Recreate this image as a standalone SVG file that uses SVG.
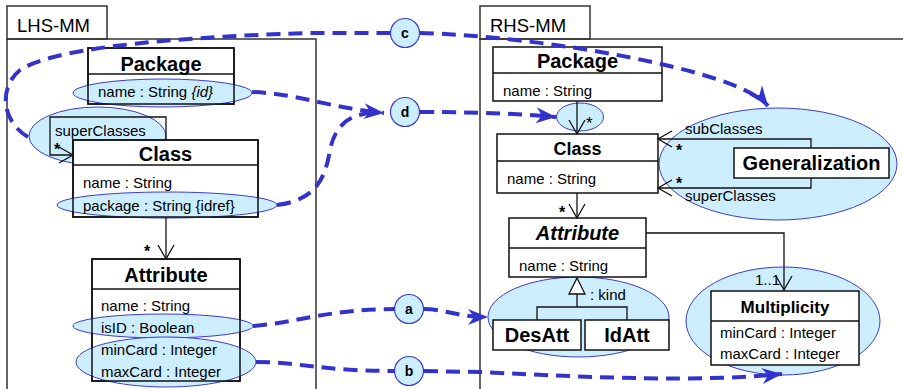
<svg xmlns="http://www.w3.org/2000/svg" width="903" height="389" viewBox="0 0 903 389">
<defs>
<style>
text{font-family:"Liberation Sans",Arial,sans-serif;fill:#000}
.t{font-size:15px}
.b{font-size:20px;font-weight:bold}
.tab{font-size:18.5px}
.box{fill:#fff;stroke:#111;stroke-width:1.5}
.frame{fill:none;stroke:#333;stroke-width:1.5}
.ln{fill:none;stroke:#111;stroke-width:1.3}
.hl{fill:#cceeff;stroke:#3b3bd0;stroke-width:1}
.dash{fill:none;stroke:#3333cc;stroke-width:4;stroke-dasharray:14 8}
.lbl{fill:#cceeff;stroke:#3b3bd0;stroke-width:1.2}
.lt{font-size:14px;font-weight:bold;text-anchor:middle}
.m{text-anchor:middle}
.star{font-size:16px;font-weight:bold}
</style>
<marker id="open" markerUnits="userSpaceOnUse" markerWidth="16" markerHeight="18" refX="14" refY="8" orient="auto" overflow="visible">
<path d="M0,0 L14,8 L0,16" fill="none" stroke="#111" stroke-width="1.3"/>
</marker>
<marker id="st" markerUnits="userSpaceOnUse" markerWidth="22" markerHeight="18" refX="20" refY="8" orient="auto" overflow="visible">
<path d="M0,0 L20,8 L0,16 L6,8 z" fill="#3333cc"/>
</marker>
</defs>

<!-- frames -->
<g id="LHS-MM">
<rect class="frame" x="7" y="6" width="100" height="33"/>
<rect class="frame" x="7" y="39" width="309" height="360"/>
<text class="tab" x="17" y="32">LHS-MM</text>
</g>
<g id="RHS-MM">
<rect class="frame" x="480" y="6" width="110" height="33"/>
<rect class="frame" x="480" y="39" width="440" height="360"/>
<text class="tab" x="490" y="32">RHS-MM</text>
</g>

<!-- selection ellipses behind nodes -->
<g id="sel">
<ellipse class="hl" cx="97.5" cy="136" rx="68.5" ry="29"/>
<ellipse class="hl" cx="580" cy="117" rx="23.5" ry="14"/>
<ellipse class="hl" cx="778" cy="164" rx="119" ry="56"/>
<ellipse class="hl" cx="578.5" cy="317" rx="90.5" ry="40"/>
<ellipse class="hl" cx="783" cy="321" rx="97" ry="54"/>
</g>

<!-- LHS nodes -->
<g id="lhs-package">
<rect class="box" x="88" y="48" width="146" height="56"/>
<ellipse class="hl" cx="162.5" cy="93" rx="89.5" ry="14"/>
<rect x="88" y="48" width="146" height="56" fill="none" stroke="#111" stroke-width="1.5"/>
<line class="ln" x1="88" y1="74" x2="234" y2="74"/>
<text class="b m" x="161" y="71">Package</text>
<text class="t" x="98" y="97">name : String <tspan font-style="italic">{id}</tspan></text>
</g>

<g id="lhs-superClasses">
<path class="ln" d="M166,140 V117 H50 V155 H73" marker-end="url(#open)"/>
<text class="t" x="55" y="136">superClasses</text>
<text class="star" x="54" y="155">*</text>
</g>

<g id="lhs-class">
<rect class="box" x="73" y="140" width="185" height="77"/>
<ellipse class="hl" cx="167" cy="205" rx="110" ry="13"/>
<rect x="73" y="140" width="185" height="77" fill="none" stroke="#111" stroke-width="1.5"/>
<line class="ln" x1="73" y1="165" x2="258" y2="165"/>
<text class="b m" x="165.5" y="161">Class</text>
<text class="t" x="83" y="188">name : String</text>
<text class="t" x="83" y="211">package : String {idref}</text>
</g>

<g id="lhs-attribute">
<rect class="box" x="92" y="259" width="148" height="122"/>
<ellipse class="hl" cx="163" cy="326" rx="90" ry="12"/>
<ellipse class="hl" cx="166" cy="362" rx="90" ry="25"/>
<rect x="92" y="259" width="148" height="122" fill="none" stroke="#111" stroke-width="1.5"/>
<line class="ln" x1="92" y1="289" x2="240" y2="289"/>
<text class="b m" x="166" y="282">Attribute</text>
<text class="t" x="101" y="311">name : String</text>
<text class="t" x="101" y="333">isID : Boolean</text>
<text class="t" x="101" y="355">minCard : Integer</text>
<text class="t" x="101" y="377">maxCard : Integer</text>
</g>

<!-- RHS nodes -->
<g id="rhs-package">
<rect class="box" x="493" y="47" width="169" height="54"/>
<line class="ln" x1="493" y1="73" x2="662" y2="73"/>
<text class="b m" x="577.5" y="68">Package</text>
<text class="t" x="503" y="96">name : String</text>
</g>

<g id="rhs-class">
<rect class="box" x="497" y="134" width="161" height="59"/>
<line class="ln" x1="497" y1="161" x2="658" y2="161"/>
<text class="m" x="577.5" y="155" style="font-size:18px;font-weight:bold">Class</text>
<text class="t" x="507" y="184">name : String</text>
</g>

<g id="rhs-generalization">
<rect class="box" x="734" y="148" width="155" height="30"/>
<text class="b m" x="811.5" y="170">Generalization</text>
</g>

<g id="rhs-attribute">
<rect class="box" x="509" y="218" width="137" height="59"/>
<line class="ln" x1="509" y1="248" x2="646" y2="248"/>
<text class="b m" x="577.5" y="240" font-style="italic">Attribute</text>
<text class="t" x="519" y="271">name : String</text>
</g>

<g id="rhs-desatt">
<rect class="box" x="493" y="320" width="88" height="30"/>
<text class="b m" x="537" y="342">DesAtt</text>
</g>
<g id="rhs-idatt">
<rect class="box" x="585" y="320" width="84" height="30"/>
<text class="b m" x="627" y="342">IdAtt</text>
</g>

<g id="rhs-multiplicity">
<rect class="box" x="711" y="291" width="148" height="74"/>
<line class="ln" x1="711" y1="321" x2="859" y2="321"/>
<text class="m" x="785" y="313" style="font-size:17px;font-weight:bold">Multiplicity</text>
<text class="t" x="720" y="338">minCard : Integer</text>
<text class="t" x="720" y="359">maxCard : Integer</text>
</g>

<!-- connectors -->
<g id="connectors">
<path class="ln" d="M166,217 V259" marker-end="url(#open)"/>
<text class="star" x="144" y="257">*</text>

<path class="ln" d="M577,101 V134" marker-end="url(#open)"/>
<text x="586" y="129" style="font-size:17px">*</text>

<path class="ln" d="M811,148 V139 H658" marker-end="url(#open)"/>
<text class="t" x="685" y="134">subClasses</text>
<text class="star" x="676" y="156">*</text>
<path class="ln" d="M811,178 V188 H658" marker-end="url(#open)"/>
<text class="star" x="676" y="189">*</text>
<text class="t" x="685" y="201">superClasses</text>

<path class="ln" d="M577,193 V218" marker-end="url(#open)"/>
<text class="star" x="559" y="218">*</text>

<path class="ln" d="M646,233 H784 V290" marker-end="url(#open)"/>
<text class="t" x="755" y="285">1..1</text>

<path d="M577,278 L585,294 L569,294 Z" fill="#fff" stroke="#111" stroke-width="1.3"/>
<path class="ln" d="M577,294 V307 M537,320 V307 H627 V320"/>
<text class="t" x="590" y="300">: kind</text>
</g>

<!-- mapping connectors -->
<g id="mappings">
<path class="dash" d="M28,137 C2,122 -2,88 20,70 C50,50 150,38 310,33 L391,33"/>
<path class="dash" d="M420,33 C540,36 740,70 768,106" marker-end="url(#st)"/>
<path class="dash" d="M252,92 C300,94 330,108 384,113" marker-end="url(#st)"/>
<path class="dash" d="M277,205 C315,200 325,180 330,150 C335,125 350,113 375,113"/>
<path class="dash" d="M420,112 C480,112 520,114 556,117" marker-end="url(#st)"/>
<path class="dash" d="M253,326 C300,322 330,309 395,309"/>
<path class="dash" d="M424,309 C445,309 455,317 488,317" marker-end="url(#st)"/>
<path class="dash" d="M256,362 C300,362 320,371 395,371"/>
<path class="dash" d="M424,371 L480,372 C600,378 700,382 782,374" marker-end="url(#st)"/>
</g>

<g id="label-c"><circle class="lbl" cx="405" cy="33" r="14.5"/><text class="lt" x="405" y="38">c</text></g>
<g id="label-d"><circle class="lbl" cx="405" cy="112" r="14.5"/><text class="lt" x="405" y="117">d</text></g>
<g id="label-a"><circle class="lbl" cx="409" cy="309" r="14.5"/><text class="lt" x="409" y="314">a</text></g>
<g id="label-b"><circle class="lbl" cx="409" cy="371" r="14.5"/><text class="lt" x="409" y="376">b</text></g>
</svg>
